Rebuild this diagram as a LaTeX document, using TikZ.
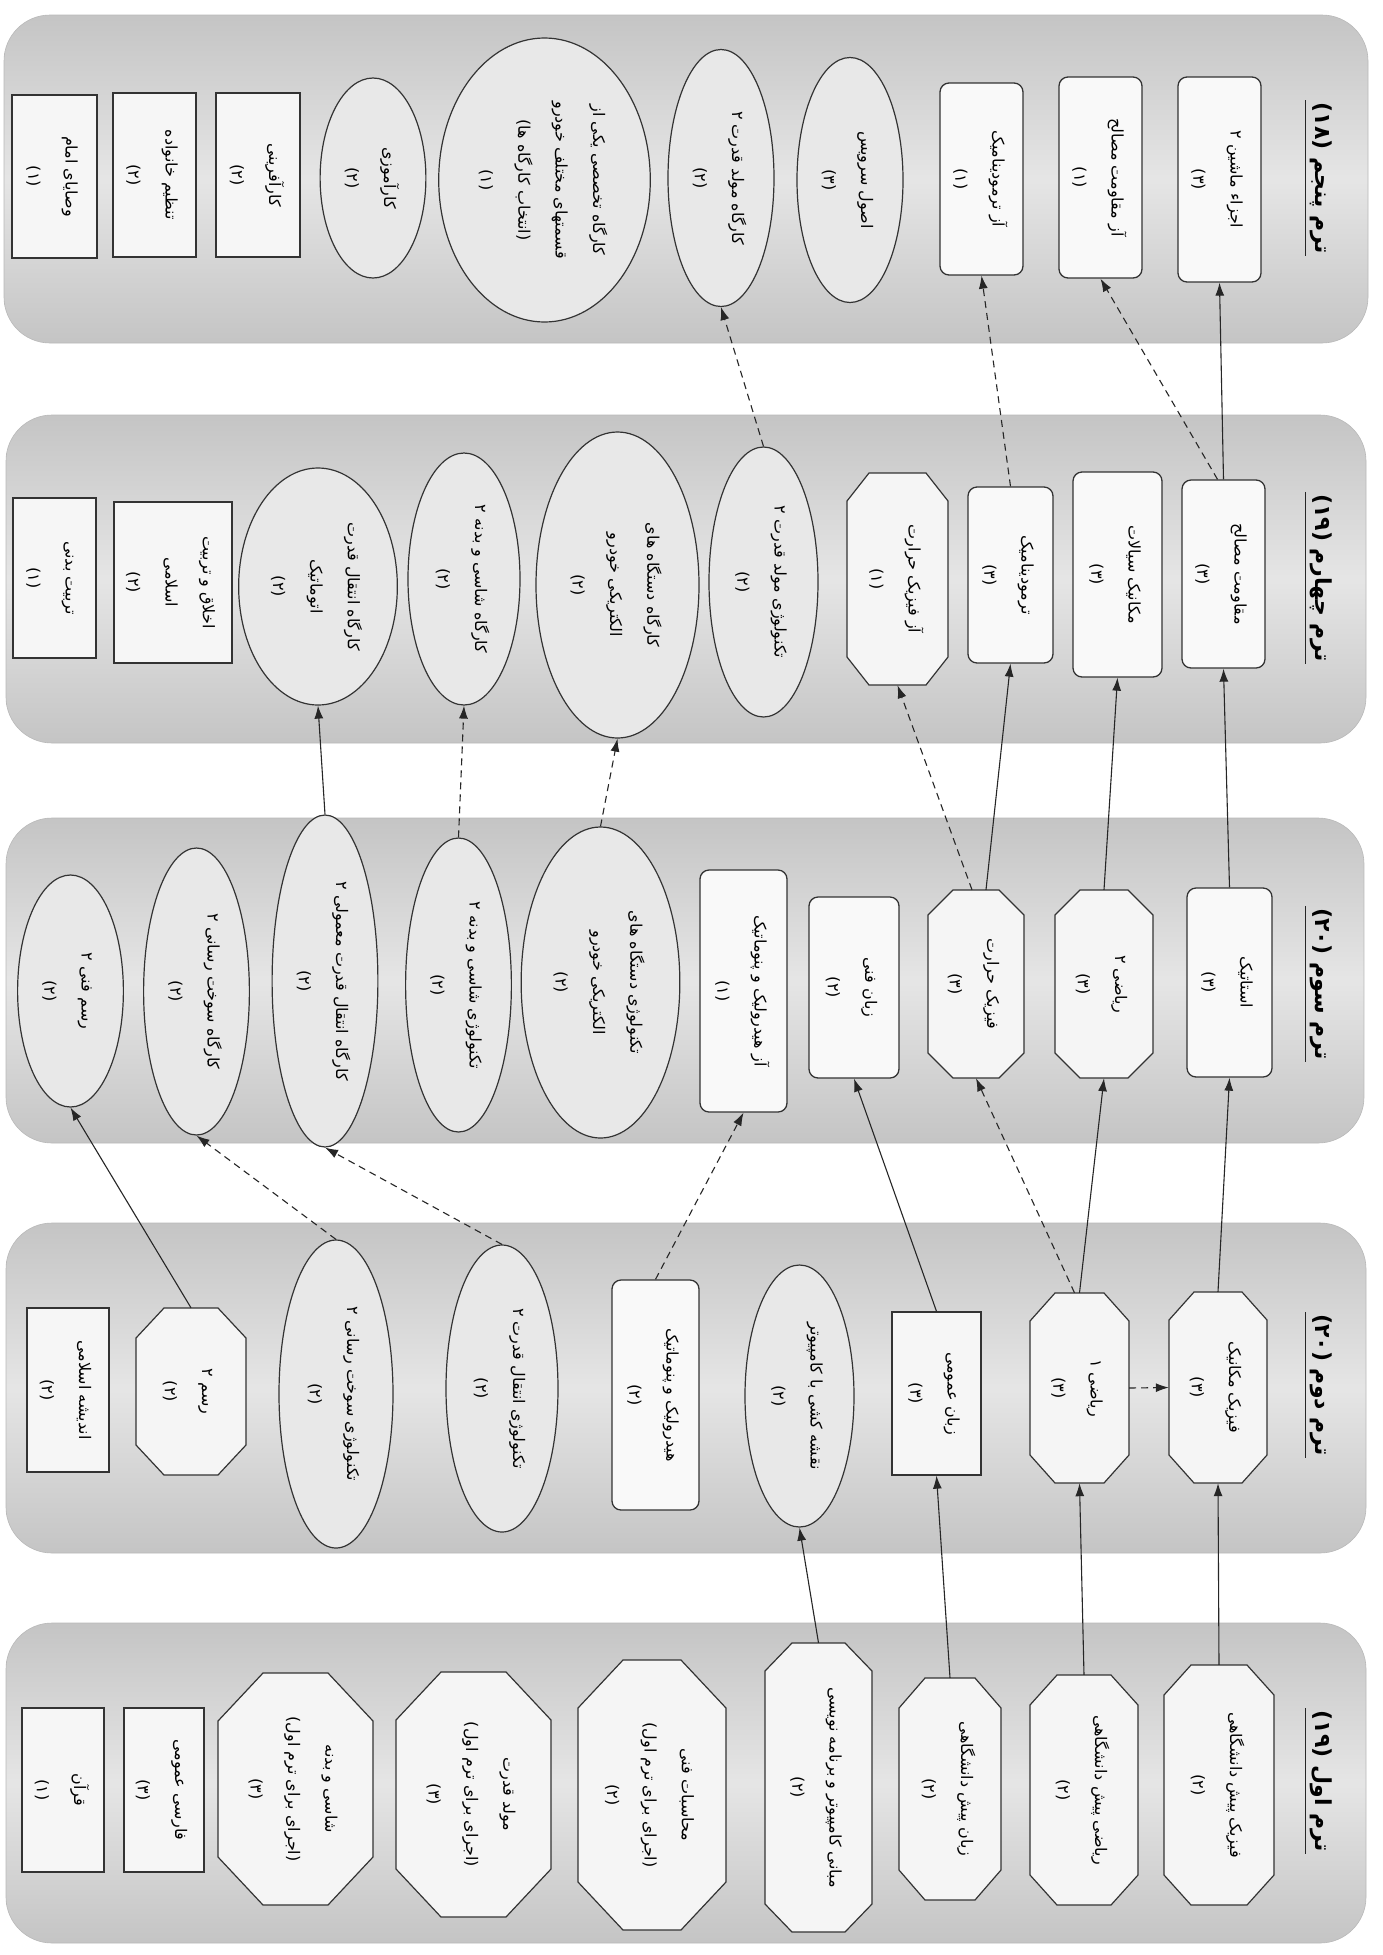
\documentclass[tikz,border=0pt]{standalone}
\usepackage{fontspec}
\usepackage{graphicx}
\usetikzlibrary{arrows.meta,shapes.geometric,calc}
\TeXXeTstate=1
\newfontfamily\fa[Script=Arabic]{DejaVu Sans}
\newcommand{\rtl}[1]{\beginR #1\endR}
\newcommand{\tx}[2]{\rotatebox{-90}{\fontsize{16}{17}\selectfont\fa\renewcommand{\arraystretch}{2.2}\begin{tabular}{@{}c@{}}#1\\#2\end{tabular}}}
\newcommand{\hd}[2]{\rotatebox{-90}{\fontsize{22}{25}\selectfont\fa\bfseries #2 \rtl{#1}}}
\tikzset{
  band/.style={draw=gray!55, line width=0.6pt, rounded corners=46pt, top color=gray!46, bottom color=gray!46, middle color=gray!20},
  rbox/.style={rectangle, rounded corners=9pt, draw=black!80, line width=1.3pt, fill=gray!5, inner sep=2pt},
  sbox/.style={rectangle, draw=black!80, line width=1.3pt, fill=gray!7, inner sep=2pt},
  ell/.style={ellipse, draw=black!80, line width=1.2pt, fill=gray!18, inner sep=0pt},
  octf/.style={draw=black!80, line width=1.2pt, fill=gray!8},
  plain/.style={rectangle, inner sep=0pt, draw=none},
  hdr/.style={rectangle, inner xsep=4pt, inner ysep=2pt},
  arr/.style={-{Latex[length=13pt,width=9pt]}, line width=1.1pt, draw=black!85},
  dsh/.style={arr, dash pattern=on 7pt off 5pt},
  uline/.style={line width=1.3pt, draw=black!85}
}
% octagon: name, cx, cy, w, h, chamfer x, chamfer y, content
\newcommand{\octnode}[8]{%
  \filldraw[octf] ({#2-#4/2+#6},{#3-#5/2}) -- ({#2+#4/2-#6},{#3-#5/2}) -- ({#2+#4/2},{#3-#5/2+#7}) -- ({#2+#4/2},{#3+#5/2-#7}) -- ({#2+#4/2-#6},{#3+#5/2}) -- ({#2-#4/2+#6},{#3+#5/2}) -- ({#2-#4/2},{#3+#5/2-#7}) -- ({#2-#4/2},{#3-#5/2+#7}) -- cycle;
  \node[plain, minimum width=#4pt, minimum height=#5pt] (#1) at (#2,#3) {#8};}
\begin{document}
\begin{tikzpicture}[x=1pt,y=-1pt]
\useasboundingbox (0,0) rectangle (1382,1955);
\fill[white] (0,0) rectangle (1382,1955);
% bands
\draw[band] (4,15) rectangle (1368,343);
\draw[band] (6,415) rectangle (1366,743);
\draw[band] (6,818) rectangle (1364,1143);
\draw[band] (6,1223) rectangle (1366,1553);
\draw[band] (6,1623) rectangle (1366,1943);
% headers
\node[hdr] (h1) at (1321,178) {\hd{ترم پنجم}{(۱۸)}};
\node[hdr] (h2) at (1321,578) {\hd{ترم چهارم}{(۱۹)}};
\node[hdr] (h3) at (1321,984) {\hd{ترم سوم}{(۲۰)}};
\node[hdr] (h4) at (1321,1385) {\hd{ترم دوم}{(۲۰)}};
\node[hdr] (h5) at (1321,1781) {\hd{ترم اول}{(۱۹)}};
\foreach \h in {h1,h2,h3,h4,h5} {\draw[uline] (\h.north west) -- (\h.south west);}
% ---- term 5
\node[rbox, minimum width=83pt, minimum height=205pt] (n1a) at (1219.5,179.5) {\tx{\rtl{اجزاء ماشین ۲}}{(۳)}};
\node[rbox, minimum width=83pt, minimum height=201pt] (n1b) at (1100.5,177.5) {\tx{\rtl{آز مقاومت مصالح}}{(۱)}};
\node[rbox, minimum width=83pt, minimum height=192pt] (n1c) at (981.5,179) {\tx{\rtl{آز ترمودینامیک}}{(۱)}};
\node[ell, minimum width=106pt, minimum height=245pt] (n1d) at (850,180) {\tx{\rtl{اصول سرویس}}{(۳)}};
\node[ell, minimum width=106pt, minimum height=257pt] (n1e) at (721,178) {\tx{\rtl{کارگاه مولد قدرت ۲}}{(۲)}};
\node[ell, minimum width=205pt, minimum height=284pt] (n1f) at (544.5,180) {\tx{\rtl{کارگاه تخصصی یکی از}\\\rtl{قسمتهای مختلف خودرو}\\\rtl{(انتخاب کارگاه ها)}}{(۱)}};
\node[ell, minimum width=102pt, minimum height=200pt] (n1g) at (373,178) {\tx{\rtl{کارآموزی}}{(۲)}};
\node[sbox, minimum width=84pt, minimum height=164pt] (n1h) at (258,175) {\tx{\rtl{کارآفرینی}}{(۲)}};
\node[sbox, minimum width=83pt, minimum height=164pt] (n1i) at (154.5,175) {\tx{\rtl{تنظیم خانواده}}{(۲)}};
\node[sbox, minimum width=85pt, minimum height=163pt] (n1j) at (54.5,176.5) {\tx{\rtl{وصایای امام}}{(۱)}};
% ---- term 4
\node[rbox, minimum width=83pt, minimum height=188pt] (n2a) at (1223.5,574) {\tx{\rtl{مقاومت مصالح}}{(۳)}};
\node[rbox, minimum width=89pt, minimum height=205pt] (n2b) at (1117.5,574.5) {\tx{\rtl{مکانیک سیالات}}{(۳)}};
\node[rbox, minimum width=85pt, minimum height=176pt] (n2c) at (1010.5,575) {\tx{\rtl{ترمودینامیک}}{(۳)}};
\octnode{n2d}{897.5}{579}{101}{212}{22}{28}{\tx{\rtl{آز فیزیک حرارت}}{(۱)}}
\node[ell, minimum width=109pt, minimum height=270pt] (n2e) at (763.5,582) {\tx{\rtl{تکنولوژی مولد قدرت ۲}}{(۲)}};
\node[ell, minimum width=163pt, minimum height=306pt] (n2f) at (617.5,585) {\tx{\rtl{کارگاه دستگاه های}\\\rtl{الکتریکی خودرو}}{(۲)}};
\node[ell, minimum width=112pt, minimum height=252pt] (n2g) at (464,579) {\tx{\rtl{کارگاه شاسی و بدنه ۲}}{(۲)}};
\node[ell, minimum width=140pt, minimum height=237pt] (n2h) at (318,586.5) {\tx{\rtl{کارگاه انتقال قدرت}\\\rtl{اتوماتیک}}{(۲)}};
\node[sbox, minimum width=118pt, minimum height=161pt] (n2i) at (173,582.5) {\tx{\rtl{اخلاق و تربیت}\\\rtl{اسلامی}}{(۲)}};
\node[sbox, minimum width=83pt, minimum height=160pt] (n2j) at (54.5,578) {\tx{\rtl{تربیت بدنی}}{(۱)}};
% ---- term 3
\node[rbox, minimum width=85pt, minimum height=189pt] (n3a) at (1229.5,982.5) {\tx{\rtl{استاتیک}}{(۳)}};
\octnode{n3b}{1104}{984}{98}{188}{25}{25}{\tx{\rtl{ریاضی ۲}}{(۳)}}
\octnode{n3c}{976}{984}{96}{188}{25}{25}{\tx{\rtl{فیزیک حرارت}}{(۳)}}
\node[rbox, minimum width=90pt, minimum height=181pt] (n3d) at (854,987.5) {\tx{\rtl{زبان فنی}}{(۲)}};
\node[rbox, minimum width=87pt, minimum height=242pt] (n3e) at (743.5,991) {\tx{\rtl{آز هیدرولیک و پنوماتیک}}{(۱)}};
\node[ell, minimum width=147pt, minimum height=311pt] (n3f) at (600.5,982.5) {\tx{\rtl{تکنولوژی دستگاه های}\\\rtl{الکتریکی خودرو}}{(۲)}};
\node[ell, minimum width=105pt, minimum height=294pt] (n3g) at (458.5,985) {\tx{\rtl{تکنولوژی شاسی و بدنه ۲}}{(۲)}};
\node[ell, minimum width=100pt, minimum height=332pt] (n3h) at (325,981) {\tx{\rtl{کارگاه انتقال قدرت معمولی ۲}}{(۲)}};
\node[ell, minimum width=103pt, minimum height=287pt] (n3i) at (196.5,991.5) {\tx{\rtl{کارگاه سوخت رسانی ۲}}{(۲)}};
\node[ell, minimum width=105pt, minimum height=232pt] (n3j) at (70.5,991) {\tx{\rtl{رسم فنی ۲}}{(۲)}};
% ---- term 2
\octnode{n4a}{1218}{1387.5}{98}{191}{25}{28}{\tx{\rtl{فیزیک مکانیک}}{(۳)}}
\octnode{n4b}{1079.5}{1388}{99}{190}{25}{28}{\tx{\rtl{ریاضی ۱}}{(۳)}}
\node[sbox, minimum width=89pt, minimum height=163pt] (n4c) at (936.5,1393.5) {\tx{\rtl{زبان عمومی}}{(۳)}};
\node[ell, minimum width=109pt, minimum height=262pt] (n4d) at (799.5,1396) {\tx{\rtl{نقشه کشی با کامپیوتر}}{(۲)}};
\node[rbox, minimum width=87pt, minimum height=230pt] (n4e) at (655.5,1395) {\tx{\rtl{هیدرولیک و پنوماتیک}}{(۲)}};
\node[ell, minimum width=112pt, minimum height=287pt] (n4f) at (502,1388.5) {\tx{\rtl{تکنولوژی انتقال قدرت ۲}}{(۲)}};
\node[ell, minimum width=114pt, minimum height=308pt] (n4g) at (336,1394) {\tx{\rtl{تکنولوژی سوخت رسانی ۲}}{(۲)}};
\octnode{n4h}{191}{1391.5}{110}{167}{28}{30}{\tx{\rtl{رسم ۲}}{(۲)}}
\node[sbox, minimum width=82pt, minimum height=164pt] (n4i) at (68,1390) {\tx{\rtl{اندیشه اسلامی}}{(۲)}};
% ---- term 1
\octnode{n5a}{1219}{1785}{110}{240}{27}{30}{\tx{\rtl{فیزیک پیش دانشگاهی}}{(۲)}}
\octnode{n5b}{1084}{1790}{108}{230}{27}{30}{\tx{\rtl{ریاضی پیش دانشگاهی}}{(۲)}}
\octnode{n5c}{950}{1789}{102}{222}{26}{30}{\tx{\rtl{زبان پیش دانشگاهی}}{(۲)}}
\octnode{n5d}{818.5}{1787.5}{107}{289}{27}{28}{\tx{\rtl{مبانی کامپیوتر و برنامه نویسی}}{(۲)}}
\octnode{n5e}{652}{1795}{148}{270}{45}{48}{\tx{\rtl{محاسبات فنی}\\\rtl{(اجرای برای ترم اول)}}{(۲)}}
\octnode{n5f}{473.5}{1794.5}{155}{245}{45}{48}{\tx{\rtl{مولد قدرت}\\\rtl{(اجرای برای ترم اول)}}{(۳)}}
\octnode{n5g}{295.5}{1789}{155}{232}{45}{48}{\tx{\rtl{شاسی و بدنه}\\\rtl{(اجرای برای ترم اول)}}{(۳)}}
\node[sbox, minimum width=80pt, minimum height=164pt] (n5h) at (164,1790) {\tx{\rtl{فارسی عمومی}}{(۳)}};
\node[sbox, minimum width=82pt, minimum height=164pt] (n5i) at (63,1790) {\tx{\rtl{قرآن}}{(۱)}};
% ---- connectors term1 -> term2
\draw[arr] (n5a.north) -- (n4a.south);
\draw[arr] (n5b.north) -- (n4b.south);
\draw[arr] (n5c.north) -- (n4c.south);
\draw[arr] (n5d.north) -- (n4d.south);
\draw[dsh] (n4b.east) -- (n4a.west);
% term2 -> term3
\draw[arr] (n4a.north) -- (n3a.south);
\draw[arr] (n4b.north) -- (n3b.south);
\draw[dsh] ($(n4b.north)+(-5,0)$) -- (n3c.south);
\draw[arr] (n4c.north) -- (n3d.south);
\draw[dsh] (n4e.north) -- (n3e.south);
\draw[dsh] (n4f.north) -- (n3h.south);
\draw[dsh] (n4g.north) -- (n3i.south);
\draw[arr] (n4h.north) -- (n3j.south);
% term3 -> term4
\draw[arr] (n3a.north) -- (n2a.south);
\draw[arr] (n3b.north) -- (n2b.south);
\draw[arr] ($(n3c.north)+(10,0)$) -- (n2c.south);
\draw[dsh] ($(n3c.north)+(-4,0)$) -- (n2d.south);
\draw[dsh] (n3f.north) -- (n2f.south);
\draw[dsh] (n3g.north) -- (n2g.south);
\draw[arr] (n3h.north) -- (n2h.south);
% term4 -> term5
\draw[arr] (n2a.north) -- (n1a.south);
\draw[dsh] ($(n2a.north)+(-6,0)$) -- (n1b.south);
\draw[dsh] (n2c.north) -- (n1c.south);
\draw[dsh] (n2e.north) -- (n1e.south);
\end{tikzpicture}
\end{document}
